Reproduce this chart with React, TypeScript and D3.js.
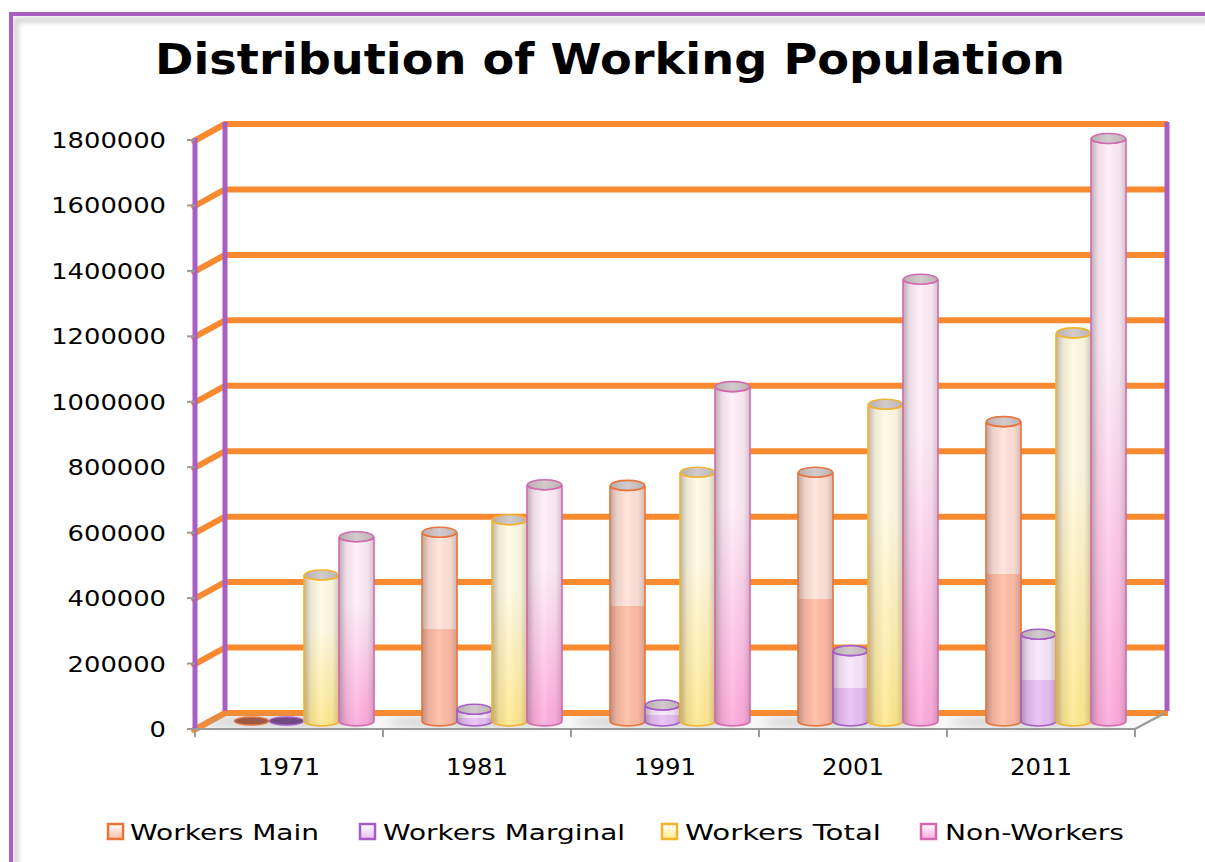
import React from 'react';
import * as d3 from 'd3';

const years = ['1971', '1981', '1991', '2001', '2011'];
const seriesNames = ['Workers Main', 'Workers Marginal', 'Workers Total', 'Non-Workers'];
const workersMain = [0, 577000, 720000, 760000, 915000];
const workersMarginal = [0, 36000, 49000, 215000, 265000];
const workersTotal = [446000, 615000, 760000, 968000, 1186000];
const nonWorkers = [563000, 722000, 1022000, 1350000, 1780000];
const yTicks = [0, 200000, 400000, 600000, 800000, 1000000, 1200000, 1400000, 1600000, 1800000];

const seriesValues = [workersMain, workersMarginal, workersTotal, nonWorkers];
const palette = [
  { top: '#FFE2D8', bottom: '#FFBBA3', stroke: '#E8743B', split: true, cap: '#c9b4ad', flat: '#9b5a47' },
  { top: '#F9E6FC', bottom: '#E7BEF5', stroke: '#A65CC6', split: true, cap: '#c2b5c7', flat: '#6f4a80' },
  { top: '#FFFBE2', bottom: '#FFE98C', stroke: '#F2B42F', split: false, cap: '#cbc6b2', flat: '#9c8a4a' },
  { top: '#FFEEF9', bottom: '#FFA9DC', stroke: '#D46AAE', split: false, cap: '#c6b5c0', flat: '#8a4f74' },
];

const W = 1205;
const H = 862;
const frontLeft = 195;
const frontRight = 1135;
const frontBase = 729;
const frontTop = 140;
const DX = 30;
const DY = -16;

export default function App() {
  const xFront = d3.scaleBand<string>().domain(years).range([frontLeft, frontRight]);
  const yFront = d3.scaleLinear().domain([0, 1800000]).range([frontBase, frontTop]);
  const yBack = (v: number) => yFront(v) + DY;
  const yMid = (v: number) => yFront(v) + DY / 2;
  const inner = d3.scaleBand<number>().domain([0, 1, 2, 3]).range([-70, 70]);
  const bw = inner.bandwidth();
  const rx = bw / 2;
  const ry = 5;

  const gridColor = '#F98A30';
  const wallPurple = '#A95FC2';

  const bars: JSX.Element[] = [];
  years.forEach((yr, i) => {
    const cx0 = (xFront(yr) as number) + xFront.bandwidth() / 2 + DX / 2;
    seriesValues.forEach((vals, s) => {
      const v = vals[i];
      const left = cx0 + (inner(s) as number);
      const cx = left + rx;
      const yb = yMid(0);
      const yt = yMid(v);
      const p = palette[s];
      const key = `b${i}-${s}`;
      if (v > 0) {
        const d = `M${left},${yt} L${left},${yb} A${rx},${ry} 0 0 0 ${left + bw},${yb} L${left + bw},${yt} A${rx},${ry} 0 0 1 ${left},${yt} Z`;
        bars.push(
          <g key={key}>
            <path d={d} fill={`url(#vg${s})`} />
            <path d={d} fill="url(#shade)" />
            <path d={d} fill="none" stroke={p.stroke} strokeWidth={1.6} />
            <ellipse cx={cx} cy={yt} rx={rx - 0.5} ry={ry} fill="url(#capg)" stroke={p.stroke} strokeWidth={1.6} />
          </g>
        );
      } else {
        bars.push(
          <ellipse key={key} cx={cx} cy={yt} rx={rx - 0.5} ry={ry - 1} fill={p.flat} stroke={p.stroke} strokeWidth={1.4} />
        );
      }
    });
  });

  return (
    <svg width={W} height={H} style={{ position: 'absolute', left: 0, top: 0, background: '#fff' }}>
      <defs>
        {palette.map((p, s) => (
          <linearGradient key={s} id={`vg${s}`} x1="0" y1="0" x2="0" y2="1">
            {p.split ? (
              <>
                <stop offset="0" stopColor={p.top} />
                <stop offset="0.5" stopColor={p.top} />
                <stop offset="0.5" stopColor={p.bottom} />
                <stop offset="1" stopColor={p.bottom} />
              </>
            ) : (
              <>
                <stop offset="0" stopColor={p.top} />
                <stop offset="0.35" stopColor={p.top} />
                <stop offset="1" stopColor={p.bottom} />
              </>
            )}
          </linearGradient>
        ))}
        <linearGradient id="shade" x1="0" y1="0" x2="1" y2="0">
          <stop offset="0" stopColor="#6a5a60" stopOpacity="0.45" />
          <stop offset="0.2" stopColor="#6a5a60" stopOpacity="0.12" />
          <stop offset="0.5" stopColor="#ffffff" stopOpacity="0.12" />
          <stop offset="0.8" stopColor="#6a5a60" stopOpacity="0.05" />
          <stop offset="1" stopColor="#6a5a60" stopOpacity="0.3" />
        </linearGradient>
        <linearGradient id="capg" x1="0" y1="0" x2="1" y2="0">
          <stop offset="0" stopColor="#b8aeb0" />
          <stop offset="0.5" stopColor="#d2cbcc" />
          <stop offset="1" stopColor="#bcb2b4" />
        </linearGradient>
        {palette.map((p, s) => (
          <linearGradient key={`lg${s}`} id={`lg${s}`} x1="0" y1="0" x2="0" y2="1">
            <stop offset="0" stopColor="#ffffff" />
            <stop offset="1" stopColor={p.bottom} />
          </linearGradient>
        ))}
        <filter id="blur4" x="-50%" y="-50%" width="200%" height="200%">
          <feGaussianBlur stdDeviation="4" />
        </filter>
        <filter id="blur2" x="-50%" y="-50%" width="200%" height="200%">
          <feGaussianBlur stdDeviation="2" />
        </filter>
      </defs>

      {/* outer frame */}
      <rect x={0} y={0} width={W} height={H} fill="#ffffff" />
      <rect x={16} y={20} width={1220} height={880} fill="none" stroke="#d8d8d8" strokeWidth={6} filter="url(#blur2)" />
      <line x1={11} y1={14} x2={1210} y2={14} stroke="#d0d0d0" strokeWidth={5} filter="url(#blur2)" transform="translate(0,-3)" />
      <rect x={11} y={14} width={1220} height={880} fill="none" stroke={wallPurple} strokeWidth={4} />

      {/* title */}
      <text x={610} y={74} textAnchor="middle" fontFamily="DejaVu Sans" fontWeight="bold" fontSize={42} fill="#000" textLength={910} lengthAdjust="spacingAndGlyphs">
        Distribution of Working Population
      </text>

      {/* floor */}
      <path
        d={`M${frontLeft},${frontBase} L${frontRight},${frontBase} L${frontRight + DX},${frontBase + DY} L${frontLeft + DX},${frontBase + DY} Z`}
        fill="#f7f7f7"
      />

      {/* gridlines back wall */}
      {yTicks.map((t) => (
        <g key={`g${t}`}>
          <line x1={frontLeft + DX} y1={yBack(t)} x2={frontRight + DX + 3} y2={yBack(t)} stroke={gridColor} strokeWidth={6} />
          <line x1={frontLeft - 1} y1={yFront(t) + 1} x2={frontLeft + DX} y2={yBack(t)} stroke={gridColor} strokeWidth={6} strokeLinecap="round" />
        </g>
      ))}
      {/* walls verticals */}
      <line x1={frontLeft + DX} y1={yBack(1800000) - 2} x2={frontLeft + DX} y2={yBack(0) - 2} stroke={wallPurple} strokeWidth={5} />
      <line x1={frontLeft} y1={yFront(1800000) - 2} x2={frontLeft} y2={yFront(0)} stroke={wallPurple} strokeWidth={5} />
      <line x1={frontRight + DX + 2} y1={yBack(1800000) - 2} x2={frontRight + DX + 2} y2={yBack(0) - 2} stroke={wallPurple} strokeWidth={5} />

      {/* shadows on floor */}
      {years.map((yr) => {
        const cx0 = (xFront(yr) as number) + xFront.bandwidth() / 2 + DX / 2;
        return (
          <ellipse key={`sh${yr}`} cx={cx0 - 20} cy={yMid(0) + 1} rx={85} ry={5} fill="#9a9a9a" opacity={0.45} filter="url(#blur4)" />
        );
      })}

      {/* floor front edges */}
      <line x1={frontLeft} y1={frontBase} x2={frontRight} y2={frontBase} stroke="#9a9a9a" strokeWidth={2} />
      <line x1={frontRight} y1={frontBase} x2={frontRight + DX} y2={frontBase + DY} stroke="#9a9a9a" strokeWidth={2} />

      {/* x ticks */}
      {[...years.map((y) => xFront(y) as number), frontRight].map((x, k) => (
        <line key={`xt${k}`} x1={x} y1={frontBase} x2={x} y2={frontBase + 8} stroke="#9a9a9a" strokeWidth={2} />
      ))}
      {/* y ticks */}
      {yTicks.map((t) => (
        <line key={`yt${t}`} x1={frontLeft - 8} y1={yFront(t)} x2={frontLeft} y2={yFront(t)} stroke="#9a9a9a" strokeWidth={2} />
      ))}

      {bars}

      {/* y labels */}
      {yTicks.map((t) => (
        <text key={`yl${t}`} x={166} y={yFront(t) + 8} textAnchor="end" fontFamily="DejaVu Sans" fontSize={22} fill="#000"
          textLength={String(t).length * 16.4} lengthAdjust="spacingAndGlyphs">
          {String(t)}
        </text>
      ))}

      {/* x labels */}
      {years.map((yr) => (
        <text key={`xl${yr}`} x={(xFront(yr) as number) + xFront.bandwidth() / 2} y={775} textAnchor="middle" fontFamily="DejaVu Sans" fontSize={23} fill="#000"
          textLength={62} lengthAdjust="spacingAndGlyphs">
          {yr}
        </text>
      ))}

      {/* legend */}
      {seriesNames.map((name, s) => {
        const pos = [
          { sx: 108, tx: 130, tw: 189 },
          { sx: 360, tx: 383, tw: 242 },
          { sx: 662, tx: 685, tw: 196 },
          { sx: 921, tx: 945, tw: 179 },
        ][s];
        return (
          <g key={`lg${s}`}>
            <rect x={pos.sx} y={824} width={15} height={15} fill={`url(#lg${s})`} stroke={palette[s].stroke} strokeWidth={2.5} />
            <text x={pos.tx} y={840} fontFamily="DejaVu Sans" fontSize={22} fill="#000" textLength={pos.tw} lengthAdjust="spacingAndGlyphs">
              {name}
            </text>
          </g>
        );
      })}
    </svg>
  );
}
